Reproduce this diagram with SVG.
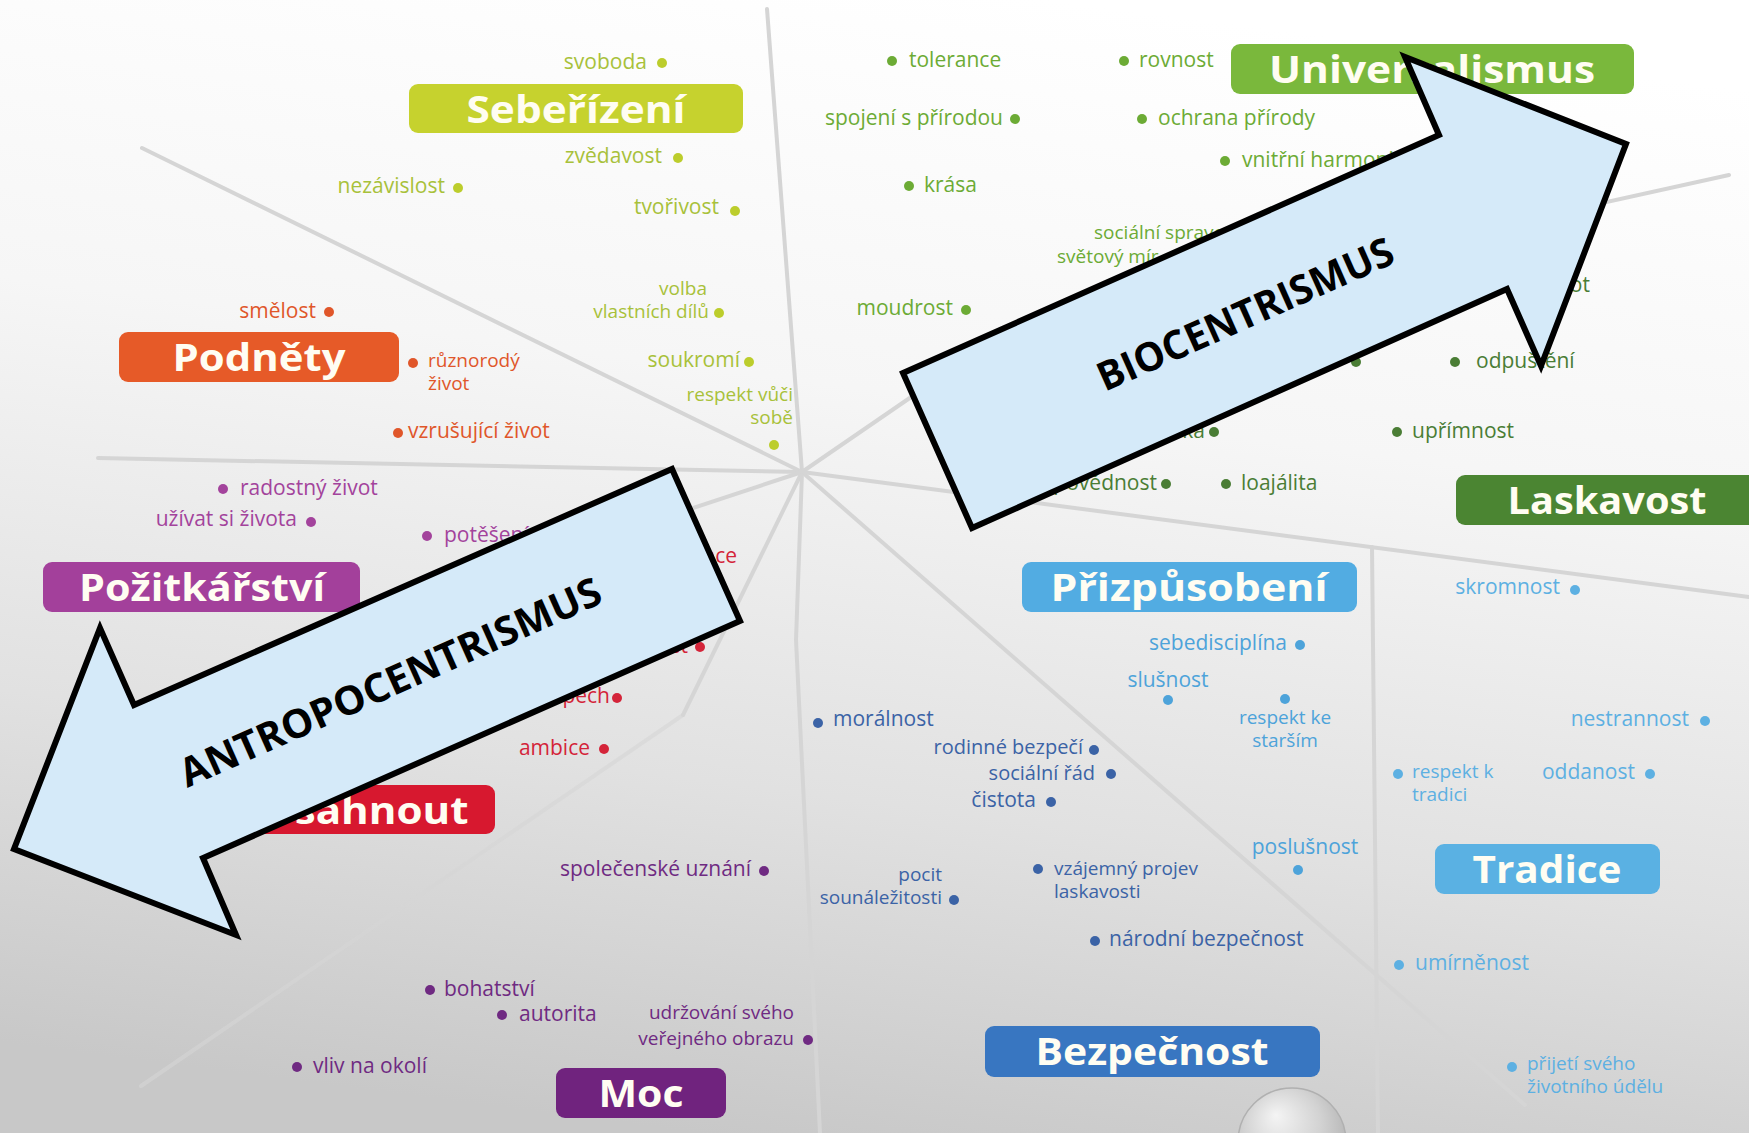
<svg xmlns="http://www.w3.org/2000/svg" width="1749" height="1133" viewBox="0 0 1749 1133">
<defs>
<linearGradient id="bg" x1="0.6" y1="0" x2="0.4" y2="1">
<stop offset="0" stop-color="#ffffff"/>
<stop offset="0.35" stop-color="#f6f6f6"/>
<stop offset="0.7" stop-color="#e1e1e1"/>
<stop offset="1" stop-color="#c8c8c8"/>
</linearGradient>
<radialGradient id="sph" cx="0.45" cy="0.4" r="0.6" fx="0.35" fy="0.25">
<stop offset="0" stop-color="#f4f4f4"/>
<stop offset="0.6" stop-color="#d2d2d2"/>
<stop offset="1" stop-color="#b4b4b4"/>
</radialGradient>
<style>
.ln{stroke:#d5d5d5;stroke-width:4;fill:none;stroke-linecap:round;stroke-linejoin:round}
.lbl{font-family:'Open Sans','Liberation Sans',sans-serif;font-weight:700;font-size:38px;fill:#fffdf2;text-anchor:middle}
.it{font-family:'Open Sans','Liberation Sans',sans-serif;font-size:21px}
.it2{font-size:19px}
.it3{font-size:20px}
.e{text-anchor:end}
.m{text-anchor:middle}
.arrow{fill:#d5eaf9;stroke:#000;stroke-width:6;stroke-linejoin:miter}
.at{font-family:'Open Sans','Liberation Sans',sans-serif;font-weight:700;font-size:40px;fill:#000;text-anchor:middle}
.seb{fill:#a8c13a}.sebd{fill:#bccd2c}
.uni{fill:#6cab35}
.las{fill:#4a7d35}
.pod{fill:#e0562a}
.poz{fill:#a3439c}
.dos{fill:#d42439}
.moc{fill:#6f2a82}
.bez{fill:#3b63a6}
.pri{fill:#4da3da}
.tra{fill:#5db0e2}
</style>
</defs>
<rect x="0" y="0" width="1749" height="1133" fill="url(#bg)"/>

<g id="connectors">
<line class="ln" x1="802" y1="472" x2="767" y2="9"/>
<line class="ln" x1="802" y1="472" x2="142" y2="148"/>
<line class="ln" x1="802" y1="472" x2="98" y2="458"/>
<line class="ln" x1="802" y1="472" x2="430" y2="595"/>
<polyline class="ln" points="802,472 683,715"/>
<polyline class="ln" points="683,715 141,1086" opacity="0.6"/>
<polyline class="ln" points="802,472 796,640 820,1133"/>
<line class="ln" x1="802" y1="472" x2="1525" y2="1105"/>
<line class="ln" x1="802" y1="472" x2="1749" y2="597"/>
<line class="ln" x1="1372" y1="547" x2="1378" y2="1133"/>
<polyline class="ln" points="802,472 1000,336 1729,175"/>
</g>

<g id="sebeurizeni">
<rect x="409" y="84" width="334" height="49" rx="9" fill="#c6d22e"/>
<text class="lbl" x="576" y="123" textLength="219" lengthAdjust="spacingAndGlyphs">Sebeřízení</text>
<g class="it seb">
<text class="e" x="647" y="69">svoboda</text>
<text class="e" x="662" y="163">zvědavost</text>
<text class="e" x="445" y="193">nezávislost</text>
<text class="e" x="719" y="214">tvořivost</text>
<text class="e it2" x="707" y="295">volba</text>
<text class="e it2" x="709" y="318">vlastních dílů</text>
<text class="e" x="740" y="367">soukromí</text>
<text class="e it2" x="793" y="401">respekt vůči</text>
<text class="e it2" x="793" y="424">sobě</text>
</g>
<g class="sebd">
<circle cx="662" cy="63" r="5"/><circle cx="678" cy="158" r="5"/><circle cx="458" cy="188" r="5"/>
<circle cx="735" cy="211" r="5"/><circle cx="719" cy="313" r="5"/><circle cx="749" cy="362" r="5"/>
<circle cx="774" cy="445" r="5"/>
</g>
</g>

<g id="podnety">
<rect x="119" y="332" width="280" height="50" rx="9" fill="#e65a28"/>
<text class="lbl" x="259" y="371" textLength="173" lengthAdjust="spacingAndGlyphs">Podněty</text>
<g class="it pod">
<text class="e" x="316" y="318">smělost</text>
<text class="it2" x="428" y="367">různorodý</text>
<text class="it2" x="428" y="390">život</text>
<text x="408" y="438">vzrušující život</text>
<circle cx="329" cy="312" r="5"/><circle cx="413" cy="363" r="5"/><circle cx="398" cy="433" r="5"/>
</g>
</g>

<g id="universalismus">
<rect x="1231" y="44" width="403" height="50" rx="9" fill="#7ab83c"/>
<text class="lbl" x="1432" y="83" textLength="326" lengthAdjust="spacingAndGlyphs">Universalismus</text>
<g class="it uni">
<text x="909" y="67">tolerance</text>
<text x="1139" y="67">rovnost</text>
<text class="e" x="1003" y="125">spojení s přírodou</text>
<text x="1158" y="125">ochrana přírody</text>
<text x="1242" y="167">vnitřní harmonie</text>
<text x="924" y="192">krása</text>
<text class="it2" x="1094" y="239">sociální spravedlnost</text>
<text class="it2" x="1057" y="263">světový mír</text>
<text class="e" x="953" y="315">moudrost</text>
<circle cx="892" cy="61" r="5"/><circle cx="1124" cy="61" r="5"/><circle cx="1015" cy="119" r="5"/>
<circle cx="1142" cy="119" r="5"/><circle cx="1225" cy="161" r="5"/><circle cx="909" cy="186" r="5"/>
<circle cx="966" cy="310" r="5"/>
</g>
</g>

<g id="laskavost">
<rect x="1456" y="475" width="310" height="50" rx="9" fill="#4b8532"/>
<text class="lbl" x="1607" y="514" textLength="199" lengthAdjust="spacingAndGlyphs">Laskavost</text>
<g class="it las">
<text class="e" x="1590" y="292">duchovní život</text>
<text x="1476" y="368">odpuštění</text>
<text class="e" x="1205" y="438">zralá láska</text>
<text x="1412" y="438">upřímnost</text>
<text class="e" x="1157" y="490">zodpovědnost</text>
<text x="1241" y="490">loajálita</text>
<circle cx="1356" cy="362" r="5"/><circle cx="1455" cy="362" r="5"/><circle cx="1214" cy="432" r="5"/>
<circle cx="1397" cy="432" r="5"/><circle cx="1166" cy="484" r="5"/><circle cx="1226" cy="484" r="5"/>
</g>
</g>

<g id="pozitkarstvi">
<rect x="43" y="562" width="317" height="50" rx="9" fill="#a3409b"/>
<text class="lbl" x="202" y="601" textLength="246" lengthAdjust="spacingAndGlyphs">Požitkářství</text>
<g class="it poz">
<text x="240" y="495">radostný život</text>
<text class="e" x="297" y="526">užívat si života</text>
<text x="444" y="542">potěšení</text>
<circle cx="223" cy="489" r="5"/><circle cx="311" cy="522" r="5"/><circle cx="427" cy="536" r="5"/>
</g>
</g>

<g id="prizpusobeni">
<rect x="1022" y="562" width="335" height="50" rx="9" fill="#52ace2"/>
<text class="lbl" x="1189" y="601" textLength="277" lengthAdjust="spacingAndGlyphs">Přizpůsobení</text>
<g class="it pri">
<text class="e" x="1287" y="650">sebedisciplína</text>
<text class="m" x="1168" y="687">slušnost</text>
<text class="m it2" x="1285" y="724">respekt ke</text>
<text class="m it2" x="1285" y="747">starším</text>
<text class="m" x="1305" y="854">poslušnost</text>
<circle cx="1300" cy="645" r="5"/><circle cx="1168" cy="700" r="5"/><circle cx="1285" cy="699" r="5"/>
<circle cx="1298" cy="870" r="5"/>
</g>
</g>

<g id="dosahnout">
<rect x="211" y="785" width="284" height="49" rx="9" fill="#d7182f"/>
<text class="lbl" x="353" y="824" textLength="231" lengthAdjust="spacingAndGlyphs">Dosáhnout</text>
<g class="it dos">
<text class="e" x="737" y="563">inteligence</text>
<text class="e" x="688" y="653">schopnost</text>
<text class="e" x="610" y="703">úspěch</text>
<text class="e" x="590" y="755">ambice</text>
<circle cx="700" cy="647" r="5"/><circle cx="617" cy="698" r="5"/><circle cx="604" cy="749" r="5"/>
</g>
</g>

<g id="tradice">
<rect x="1435" y="844" width="225" height="50" rx="9" fill="#5ab1e3"/>
<text class="lbl" x="1547" y="883" textLength="149" lengthAdjust="spacingAndGlyphs">Tradice</text>
<g class="it tra">
<text class="e" x="1560" y="594">skromnost</text>
<text class="e" x="1689" y="726">nestrannost</text>
<text class="it2" x="1412" y="778">respekt k</text>
<text class="it2" x="1412" y="801">tradici</text>
<text class="e" x="1635" y="779">oddanost</text>
<text x="1415" y="970">umírněnost</text>
<text class="it2" x="1527" y="1070">přijetí svého</text>
<text class="it2" x="1527" y="1093">životního údělu</text>
<circle cx="1575" cy="590" r="5"/><circle cx="1705" cy="721" r="5"/><circle cx="1398" cy="774" r="5"/>
<circle cx="1650" cy="774" r="5"/><circle cx="1399" cy="965" r="5"/><circle cx="1512" cy="1067" r="5"/>
</g>
</g>

<g id="bezpecnost">
<rect x="985" y="1026" width="335" height="51" rx="9" fill="#3876c1"/>
<text class="lbl" x="1152" y="1065" textLength="233" lengthAdjust="spacingAndGlyphs">Bezpečnost</text>
<g class="it bez">
<text x="833" y="726">morálnost</text>
<text class="e it3" x="1083" y="754">rodinné bezpečí</text>
<text class="e it3" x="1095" y="780">sociální řád</text>
<text class="e" x="1036" y="807">čistota</text>
<text class="e it2" x="942" y="881">pocit</text>
<text class="e it2" x="942" y="904">sounáležitosti</text>
<text class="it2" x="1054" y="875">vzájemný projev</text>
<text class="it2" x="1054" y="898">laskavosti</text>
<text x="1109" y="946">národní bezpečnost</text>
<circle cx="818" cy="723" r="5"/><circle cx="1094" cy="750" r="5"/><circle cx="1111" cy="774" r="5"/>
<circle cx="1051" cy="802" r="5"/><circle cx="954" cy="900" r="5"/><circle cx="1038" cy="869" r="5"/>
<circle cx="1095" cy="941" r="5"/>
</g>
</g>

<g id="moc">
<rect x="556" y="1068" width="170" height="50" rx="9" fill="#70237e"/>
<text class="lbl" x="641" y="1107" textLength="85" lengthAdjust="spacingAndGlyphs">Moc</text>
<g class="it moc">
<text class="e" x="751" y="876">společenské uznání</text>
<text x="444" y="996">bohatství</text>
<text x="519" y="1021">autorita</text>
<text class="e it2" x="794" y="1019">udržování svého</text>
<text class="e it2" x="794" y="1045">veřejného obrazu</text>
<text x="313" y="1073">vliv na okolí</text>
<circle cx="764" cy="871" r="5"/><circle cx="430" cy="990" r="5"/><circle cx="502" cy="1015" r="5"/>
<circle cx="808" cy="1040" r="5"/><circle cx="297" cy="1067" r="5"/>
</g>
</g>

<g id="sphere">
<circle cx="1292" cy="1142" r="54" fill="url(#sph)" stroke="#b0b0b0" stroke-width="1.5"/>
</g>

<g id="biocentrismus">
<polygon class="arrow" points="903,373 1439,135 1405,57 1626,144 1541,366 1507,289 972,528"/>
<text class="at" x="1251" y="327" transform="rotate(-24 1251 327)" textLength="320" lengthAdjust="spacingAndGlyphs">BIOCENTRISMUS</text>
</g>

<g id="antropocentrismus">
<polygon class="arrow" points="672,469 740,621 203,858 236,935 14,849 100,628 134,705"/>
<text class="at" x="396" y="695" transform="rotate(-24 396 695)" textLength="457" lengthAdjust="spacingAndGlyphs">ANTROPOCENTRISMUS</text>
</g>
</svg>
